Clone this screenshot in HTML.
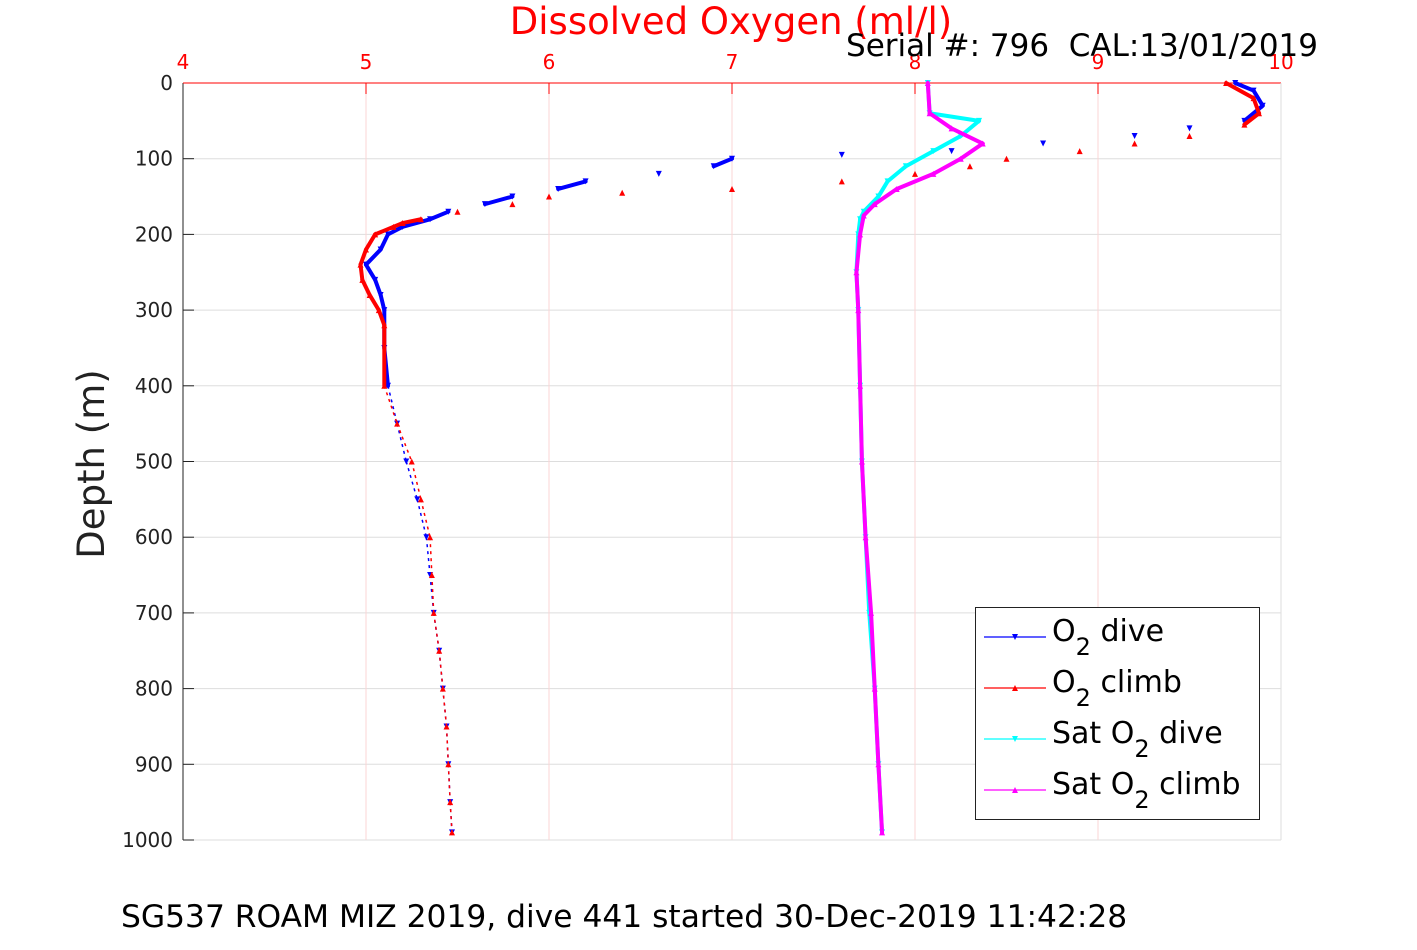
<!DOCTYPE html>
<html><head><meta charset="utf-8"><style>
body{margin:0;background:#fff;}
svg text{font-family:"DejaVu Sans","Liberation Sans",sans-serif;white-space:pre;}
</style></head><body>
<svg id="chart" width="1417" height="945" xmlns="http://www.w3.org/2000/svg">
<rect width="1417" height="945" fill="#fff"/>
<g id="grid"></g>
<g id="axes"></g>
<g id="series"></g>
<text x="731" y="34" font-size="37" fill="#f00" text-anchor="middle">Dissolved Oxygen (ml/l)</text>
<text x="1318" y="56" font-size="31" fill="#000" text-anchor="end" xml:space="preserve">Serial #: 796  CAL:13/01/2019</text>
<text transform="translate(104,464) rotate(-90)" font-size="37" fill="#222" text-anchor="middle">Depth (m)</text>
<text x="121" y="927" font-size="31.3" fill="#000">SG537 ROAM MIZ 2019, dive 441 started 30-Dec-2019 11:42:28</text>
<g>
<rect x="975.5" y="607.5" width="284" height="212" fill="#fff" stroke="#222" stroke-width="1"/>
<g id="legend-items"></g>
</g>
</svg>
<script>
const xTicks=[4,5,6,7,8,9,10];
const yTicks=[0,100,200,300,400,500,600,700,800,900,1000];
const diveDepth=[0,10,30,50,60,70,80,90,95,100,110,120,130,140,150,160,170,180,190,200,220,240,260,280,300,350,400,450,500,550,600,650,700,750,800,850,900,950,990];
const diveO2=[9.75,9.85,9.9,9.8,9.5,9.2,8.7,8.2,7.6,7.0,6.9,6.6,6.2,6.05,5.8,5.65,5.45,5.35,5.2,5.12,5.08,5.0,5.05,5.08,5.1,5.1,5.12,5.17,5.22,5.28,5.33,5.35,5.37,5.4,5.42,5.44,5.45,5.46,5.47];
const climbDepth=[0,20,40,55,70,80,90,100,110,120,130,140,145,150,160,170,180,185,190,200,220,240,260,280,300,320,400,450,500,550,600,650,700,750,800,850,900,950,990];
const climbO2=[9.7,9.85,9.88,9.8,9.5,9.2,8.9,8.5,8.3,8.0,7.6,7.0,6.4,6.0,5.8,5.5,5.3,5.2,5.15,5.05,5.0,4.97,4.98,5.02,5.07,5.1,5.1,5.17,5.25,5.3,5.35,5.36,5.37,5.4,5.42,5.44,5.45,5.46,5.47];
const satDiveDepth=[0,40,50,70,90,110,130,150,170,180,200,250,300,400,500,600,700,800,900,990];
const satDiveO2=[8.07,8.08,8.35,8.25,8.1,7.95,7.85,7.8,7.72,7.7,7.69,7.68,7.69,7.7,7.71,7.73,7.75,7.78,7.8,7.82];
const satClimbDepth=[0,40,60,80,100,120,140,160,175,200,250,300,400,500,600,700,800,900,990];
const satClimbO2=[8.07,8.08,8.2,8.37,8.25,8.1,7.9,7.78,7.72,7.7,7.68,7.69,7.7,7.71,7.73,7.76,7.78,7.8,7.82];

const X0=183,X1=1281,Y0=83,Y1=840;
const xs=v=>X0+(v-4)/6*(X1-X0);
const ys=d=>Y0+d/1000*(Y1-Y0);
const NS="http://www.w3.org/2000/svg";
function mk(t,p,a){const e=document.createElementNS(NS,t);for(const k in a)e.setAttribute(k,a[k]);p.appendChild(e);return e;}
const grid=document.getElementById('grid'),axes=document.getElementById('axes'),ser=document.getElementById('series');
yTicks.forEach(t=>{
 const g=mk('line',grid,{x1:X0,x2:X1,y1:ys(t),y2:ys(t),stroke:'#ddd','stroke-width':1});
 
 
 mk('line',axes,{x1:X0,x2:X0+11,y1:ys(t),y2:ys(t),stroke:'#222'});
 const l=mk('text',axes,{x:X0-10,y:ys(t)+7,'font-size':20,fill:'#222','text-anchor':'end'});
 l.textContent=t;
 
 
});
xTicks.forEach(t=>{
 const g=mk('line',grid,{x1:xs(t),x2:xs(t),y1:Y0,y2:Y1,stroke:'#fbd5d5','stroke-width':1});
 
 
 mk('line',axes,{x1:xs(t),x2:xs(t),y1:Y0,y2:Y0+11,stroke:'#f00'});
 const l=mk('text',axes,{x:xs(t),y:Y0-14,'font-size':20,fill:'#f00','text-anchor':'middle'});
 l.textContent=t;
 
 
});
mk('line',axes,{x1:X0,x2:X0,y1:Y0,y2:Y1,stroke:'#222'});
mk('line',axes,{x1:X0,x2:X1,y1:Y0,y2:Y0,stroke:'#f00'});
mk('line',axes,{x1:X1,x2:X1,y1:Y0,y2:Y1,stroke:'#ddd'});
function tri(cx,cy,up,s){return up?`${cx-s},${cy+s} ${cx+s},${cy+s} ${cx},${cy-s}`:`${cx-s},${cy-s} ${cx+s},${cy-s} ${cx},${cy+s}`;}
function series(name,dep,val,col,up,always){
 const g=mk('g',ser,{});
 
 
 for(let i=1;i<dep.length;i++){
  const xa=xs(val[i-1]),ya=ys(dep[i-1]),xb=xs(val[i]),yb=ys(dep[i]);
  const dx=Math.abs(xb-xa);
  if(always) mk('line',g,{x1:xa,y1:ya,x2:xb,y2:yb,stroke:col,'stroke-width':4,'stroke-linecap':'round'});
  else if(dep[i]<=400 && dx<30) mk('line',g,{x1:xa,y1:ya,x2:xb,y2:yb,stroke:col,'stroke-width':4,'stroke-linecap':'round'});
  else if(dep[i]>400) mk('line',g,{x1:xa,y1:ya,x2:xb,y2:yb,stroke:col,'stroke-width':1.5,'stroke-dasharray':'3 4'});
 }
 dep.forEach((d,i)=>{const m=mk('polygon',g,{points:tri(xs(val[i]),ys(d),up,3),fill:col});
  
  });
}
series('o2-dive',diveDepth,diveO2,'#00f',false,false);
series('o2-climb',climbDepth,climbO2,'#f00',true,false);
series('sat-o2-dive',satDiveDepth,satDiveO2,'#0ff',false,true);
series('sat-o2-climb',satClimbDepth,satClimbO2,'#f0f',true,true);
const li=document.getElementById('legend-items');
const leg=[['O','2',' dive','#00f',false],['O','2',' climb','#f00',true],['Sat O','2',' dive','#0ff',false],['Sat O','2',' climb','#f0f',true]];
leg.forEach((L,i)=>{
 const y=637+i*51;
 const g=mk('g',li,{});
 
 
 mk('line',g,{x1:984,x2:1046,y1:y,y2:y,stroke:L[3],'stroke-width':1.2});
 mk('polygon',g,{points:tri(1015,y,L[4],3),fill:L[3]});
 const t=mk('text',g,{x:1052,y:y+4,'font-size':30,fill:'#000'});
 t.innerHTML=L[0]+'<tspan font-size="24" dy="14">'+L[1]+'</tspan><tspan dy="-14">'+L[2]+'</tspan>';
});
</script>
</body></html>
